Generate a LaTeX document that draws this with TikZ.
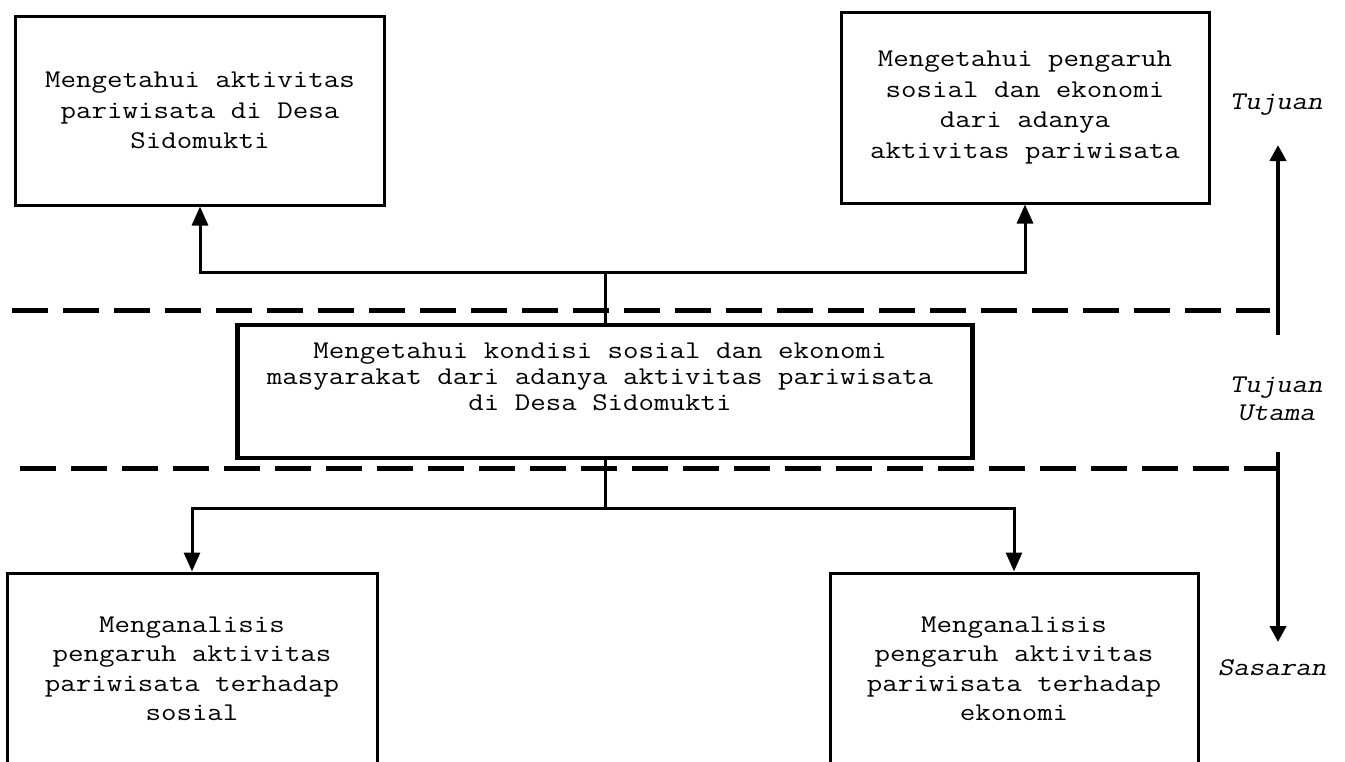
\documentclass[tikz,border=0pt]{standalone}
\usepackage{fontspec}
\setmonofont{Latin Modern Mono}[FakeStretch=1.18]
\newfontfamily\slantmono{Latin Modern Mono}[FakeStretch=1.18, FakeSlant=0.2]
\usetikzlibrary{arrows.meta}

\tikzset{
  boxtext/.style={font=\ttfamily\fontsize{25.5}{30.5}\selectfont, align=center},
  goalbox/.style={boxtext, draw, line width=3pt, fill=white, rectangle, inner sep=0pt},
  mainbox/.style={draw, line width=4.5pt, fill=white, rectangle, inner sep=0pt},
  conn/.style={line width=3pt},
  arr/.style={conn, -{Triangle[width=16pt,length=19pt]}},
  levelarrow/.style={line width=4pt, -{Triangle[width=16pt,length=16pt]}},
  separator/.style={line width=5pt, dash pattern=on 36pt off 15pt},
  levelname/.style={font=\slantmono\fontsize{25.5}{28}\selectfont, align=center},
}

\begin{document}
\begin{tikzpicture}[x=1pt, y=-1pt]
  \clip (0,0) rectangle (1345,761);
  \fill[white] (0,0) rectangle (1345,761);

  % level separators
  \draw[separator] (12,310) -- (1270,310);
  \draw[separator] (20,468) -- (1278,468);

  % goals
  \node[goalbox, minimum width=369pt, minimum height=189pt] (tl) at (200,110.5)
    {Mengetahui aktivitas\\pariwisata di Desa\\Sidomukti};
  \node[goalbox, minimum width=368pt, minimum height=191pt] (tr) at (1025,107.5)
    {Mengetahui pengaruh\\sosial dan ekonomi\\dari adanya\\aktivitas pariwisata};

  % main goal
  \node[mainbox, minimum width=735pt, minimum height=133pt] (central) at (605,391.5) {};
  \node[font=\ttfamily\fontsize{25.5}{26}\selectfont, align=center] (centraltext) at (600,377)
    {Mengetahui kondisi sosial dan ekonomi\\masyarakat dari adanya aktivitas pariwisata\\di Desa Sidomukti};

  % targets (running past the lower edge)
  \node[goalbox, font=\ttfamily\fontsize{25.5}{29.5}\selectfont, minimum width=370pt, minimum height=192pt] (bl) at (192,669)
    {Menganalisis\\pengaruh aktivitas\\pariwisata terhadap\\sosial};
  \node[goalbox, font=\ttfamily\fontsize{25.5}{29.5}\selectfont, minimum width=368pt, minimum height=192pt] (br) at (1014,669)
    {Menganalisis\\pengaruh aktivitas\\pariwisata terhadap\\ekonomi};

  % connectors
  \coordinate (jtop) at (central.north |- 0,272);
  \coordinate (jbot) at (central.south |- 0,508);
  \draw[conn] (central.north) -- (jtop);
  \draw[arr] (jtop) -| (tl.south);
  \draw[arr] (jtop) -| (tr.south);
  \draw[conn] (central.south) -- (jbot);
  \draw[arr] (jbot) -| (bl.north);
  \draw[arr] (jbot) -| (br.north);

  % level axis
  \coordinate (upstart) at (1278,335);
  \coordinate (upend) at (1278,145);
  \coordinate (downstart) at (1278,452);
  \coordinate (downend) at (1278,642);
  \draw[levelarrow] (upstart) -- (upend);
  \draw[levelarrow] (downstart) -- (downend);
  \node[levelname] (ltop) at (1276,105) {Tujuan};
  \node[levelname] (lmid) at (1276,399) {Tujuan\\Utama};
  \node[levelname] (lbot) at (1272,668) {Sasaran};
\end{tikzpicture}
\end{document}
